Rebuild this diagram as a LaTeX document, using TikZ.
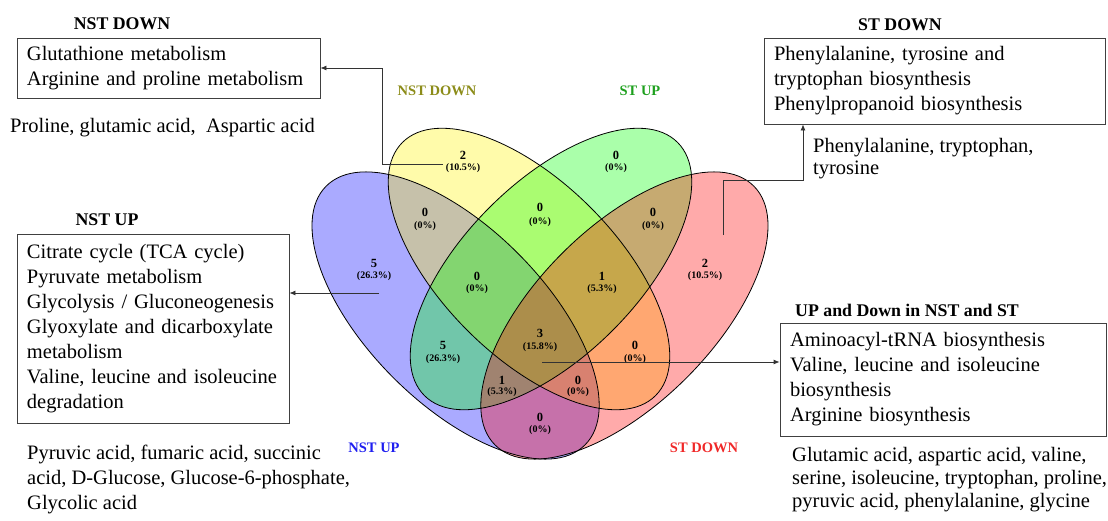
\documentclass[tikz,border=0pt]{standalone}
\usepackage{fontspec}
\setmainfont{Liberation Serif}
\usetikzlibrary{arrows.meta}
\begin{document}
\begin{tikzpicture}[x=1pt,y=-1pt,
  vennline/.style={line width=0.8pt, draw=black},
  vfill/.style={fill opacity=0.333},
  cnt/.style={font=\fontsize{12.5}{14}\selectfont\bfseries, inner sep=0pt},
  pct/.style={font=\fontsize{10}{12}\selectfont\bfseries, inner sep=0pt},
  setlab/.style={font=\fontsize{14.5}{16}\selectfont\bfseries, inner sep=0pt},
  title/.style={font=\fontsize{17.8}{19}\selectfont\bfseries, inner sep=0pt},
  box/.style={draw=black!75, line width=0.8pt, align=left, inner xsep=10pt, inner ysep=0pt,
     font=\fontsize{20.5}{25}\selectfont, anchor=center},
  plain/.style={align=left, inner sep=0pt, anchor=west, font=\fontsize{20.5}{25}\selectfont},
  arr/.style={draw=black!80, line width=0.8pt, -{Latex[length=6pt,width=5pt]}}
]
\useasboundingbox (0,0) rectangle (1108,520);
\definecolor{olivelab}{RGB}{140,140,25}
\definecolor{greenlab}{RGB}{30,160,30}
\definecolor{bluelab}{RGB}{30,30,240}
\definecolor{redlab}{RGB}{240,40,40}

% Venn fills
\fill[blue, vfill, rotate around={-45:(455.6,315.5)}] (455.6,315.5) ellipse [x radius=183pt, y radius=88pt];
\fill[yellow, vfill, rotate around={-45:(529,269)}] (529,269) ellipse [x radius=179pt, y radius=87pt];
\fill[green, vfill, rotate around={45:(551,269)}] (551,269) ellipse [x radius=179pt, y radius=87pt];
\fill[red, vfill, rotate around={45:(624.4,315.5)}] (624.4,315.5) ellipse [x radius=183pt, y radius=88pt];
% Venn outlines
\draw[vennline, rotate around={-45:(455.6,315.5)}] (455.6,315.5) ellipse [x radius=183pt, y radius=88pt];
\draw[vennline, rotate around={-45:(529,269)}] (529,269) ellipse [x radius=179pt, y radius=87pt];
\draw[vennline, rotate around={45:(551,269)}] (551,269) ellipse [x radius=179pt, y radius=87pt];
\draw[vennline, rotate around={45:(624.4,315.5)}] (624.4,315.5) ellipse [x radius=183pt, y radius=88pt];

% set labels
\node[setlab, text=olivelab] (lnstdown) at (437,91) {NST DOWN};
\node[setlab, text=greenlab] (lstup) at (640,91) {ST UP};
\node[setlab, text=bluelab] (lnstup) at (374,448) {NST UP};
\node[setlab, text=redlab] (lstdown) at (704,448) {ST DOWN};

% region counts
\node[cnt] (c1) at (463,155) {2}; \node[pct] (p1) at (463,168) {(10.5\%)};
\node[cnt] (c2) at (616,155) {0}; \node[pct] (p2) at (616,168) {(0\%)};
\node[cnt] (c3) at (425,212) {0}; \node[pct] (p3) at (425,226) {(0\%)};
\node[cnt] (c4) at (540,207) {0}; \node[pct] (p4) at (540,222) {(0\%)};
\node[cnt] (c5) at (653,212) {0}; \node[pct] (p5) at (653,226) {(0\%)};
\node[cnt] (c6) at (374,263) {5}; \node[pct] (p6) at (374,276) {(26.3\%)};
\node[cnt] (c7) at (477,276) {0}; \node[pct] (p7) at (477,289) {(0\%)};
\node[cnt] (c8) at (602,276) {1}; \node[pct] (p8) at (602,289) {(5.3\%)};
\node[cnt] (c9) at (705,263) {2}; \node[pct] (p9) at (705,276) {(10.5\%)};
\node[cnt] (c10) at (443,345) {5}; \node[pct] (p10) at (443,359) {(26.3\%)};
\node[cnt] (c11) at (540,333) {3}; \node[pct] (p11) at (540,347) {(15.8\%)};
\node[cnt] (c12) at (635,345) {0}; \node[pct] (p12) at (635,359) {(0\%)};
\node[cnt] (c13) at (502,380) {1}; \node[pct] (p13) at (502,392) {(5.3\%)};
\node[cnt] (c14) at (578,380) {0}; \node[pct] (p14) at (578,392) {(0\%)};
\node[cnt] (c15) at (540,417) {0}; \node[pct] (p15) at (540,430) {(0\%)};

% titles
\node[title] (tnstdown) at (122,24) {NST DOWN};
\node[title] (tstdown) at (900,25) {ST DOWN};
\node[title] (tnstup) at (107,220) {NST UP};
\node[title] (tupdown) at (907,310) {UP and Down in NST and ST};

% boxes
\node[box, text width=283pt, minimum height=60pt] (bnstdown) at (168.5,68)
  {\mbox{Glutathione metabolism}\\\mbox{Arginine and proline metabolism}};
\node[box, text width=321pt, minimum height=86pt] (bstdown) at (934.5,81)
  {\mbox{Phenylalanine, tyrosine and}\\\mbox{tryptophan biosynthesis}\\\mbox{Phenylpropanoid biosynthesis}};
\node[box, text width=252pt, minimum height=189pt] (bnstup) at (153,328.5)
  {\mbox{Citrate cycle (TCA cycle)}\\\mbox{Pyruvate metabolism}\\\mbox{Glycolysis / Gluconeogenesis}\\\mbox{Glyoxylate and dicarboxylate}\\\mbox{metabolism}\\\mbox{Valine, leucine and isoleucine}\\\mbox{degradation}};
\node[box, text width=306pt, minimum height=113pt] (bupdown) at (943,379.5)
  {\mbox{Aminoacyl-tRNA biosynthesis}\\\mbox{Valine, leucine and isoleucine}\\\mbox{biosynthesis}\\\mbox{Arginine biosynthesis}};

% metabolite texts
\node[plain] (mnstdown) at (10,128) {Proline, glutamic acid,\ \ Aspartic acid};
\node[plain, font=\fontsize{20.5}{22}\selectfont] (mstdown) at (813,159) {Phenylalanine, tryptophan,\\tyrosine};
\node[plain] (mnstup) at (27,479) {Pyruvic acid, fumaric acid, succinic\\acid, D-Glucose, Glucose-6-phosphate,\\Glycolic acid};
\node[plain, font=\fontsize{20.5}{23}\selectfont] (mupdown) at (792,480) {Glutamic acid, aspartic acid, valine,\\serine, isoleucine, tryptophan, proline,\\pyruvic acid, phenylalanine, glycine};

% connectors
\coordinate (s1) at (443,164);
\coordinate (k1) at (382,164);
\draw[arr] (s1) -- (k1) |- (bnstdown.east);
\coordinate (s2) at (379,293);
\draw[arr] (s2) -- (s2 -| bnstup.east);
\coordinate (s3) at (723,235);
\coordinate (k3) at (803,180);
\draw[arr] (s3) |- (k3) -- (k3 |- bstdown.south);
\coordinate (s4) at (542,362);
\draw[arr] (s4) -- (s4 -| bupdown.west);
\end{tikzpicture}
\end{document}
